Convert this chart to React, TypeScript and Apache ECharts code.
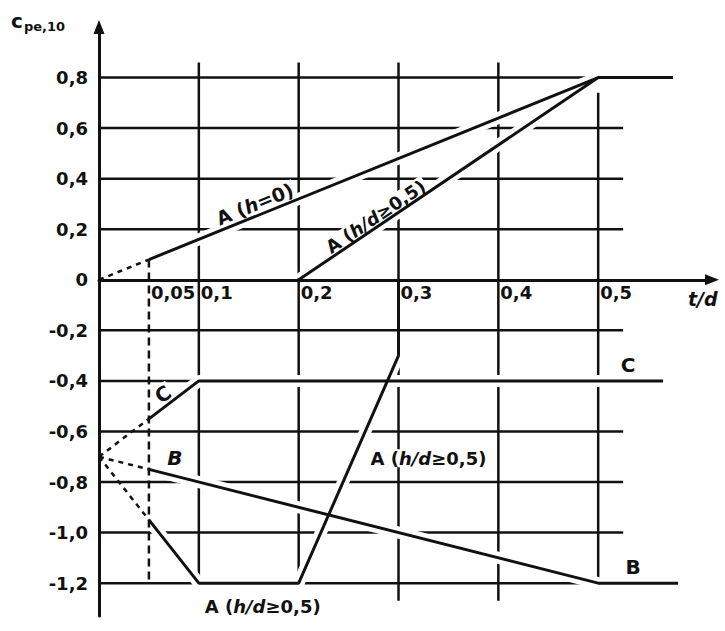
import React, { useEffect, useRef } from "react";
import * as echarts from "echarts";

// ---- axis tick labels ----
const xTickValues = [0.05, 0.1, 0.2, 0.3, 0.4, 0.5];
const xTickLabels = ["0,05", "0,1", "0,2", "0,3", "0,4", "0,5"];
const yTickValues = [-1.2, -1.0, -0.8, -0.6, -0.4, -0.2, 0, 0.2, 0.4, 0.6, 0.8];

// ---- grid lines (drawn as data lines) ----
const gridYValues = [0.8, 0.6, 0.4, 0.2, -0.2, -0.4, -0.6, -0.8, -1.0, -1.2];
const gridYEnd = 0.525;
const gridXValues = [0.1, 0.2, 0.3, 0.4, 0.5];
const gridXTop = [0.86, 0.86, 0.86, 0.86, 0.74];
const gridXBottom = [-1.2, -1.2, -1.27, -1.27, -1.18];

// ---- curves (t/d, cpe,10) ----
const aH0Solid = [[0.05, 0.08], [0.5, 0.8], [0.575, 0.8]];
const aH0Dashed = [[0, 0], [0.05, 0.08]];
const aUpperSolid = [[0.2, 0], [0.5, 0.8]];
const aLowerSolid = [[0.05, -0.95], [0.1, -1.2], [0.2, -1.2], [0.3, -0.3]];
const aLowerJump = [[0.3, -0.3], [0.3, 0]];
const aLowerDashed = [[0, -0.7], [0.05, -0.95]];
const cSolid = [[0.05, -0.55], [0.1, -0.4], [0.565, -0.4]];
const cDashed = [[0, -0.7], [0.05, -0.55]];
const bSolid = [[0.05, -0.75], [0.5, -1.2], [0.58, -1.2]];
const bDashed = [[0, -0.7], [0.05, -0.75]];
const refDashed = [[0.05, 0.08], [0.05, -1.2]];

// ---- curve annotations ----
const annoText = [
  "{m|A (}{mi|h}{m|=0)}",
  "{n|A (}{i|h/d}{n|≥0,5)}",
  "{n|A (}{i|h/d}{n|≥0,5)}",
  "{n|A (}{i|h/d}{n|≥0,5)}",
  "{c|C}",
  "{c|C}",
  "{ci|B}",
  "{c|B}",
];
const annoX = [0.156, 0.277, 0.33, 0.164, 0.064, 0.53, 0.076, 0.535];
const annoY = [0.3, 0.25, -0.706, -1.291, -0.453, -0.338, -0.706, -1.136];
const annoRotate = [22, 34, 0, 0, 35, 0, 0, 0];

const INK = "#111111";
const FONT = "DejaVu Sans";

export default function App() {
  const ref = useRef<HTMLDivElement>(null);

  useEffect(() => {
    document.body.style.margin = "0";
    if (!ref.current) return;
    const chart = echarts.init(ref.current, undefined, { renderer: "svg" });

    const plainLine = (data: number[][], z: number, color: string, width: number, dash?: number[]) => ({
      type: "line",
      data,
      z,
      silent: true,
      symbol: "none",
      showSymbol: false,
      animation: false,
      lineStyle: { color, width, type: dash ? dash : "solid", cap: "butt" },
    });

    const gridSeries = [
      ...gridYValues.map((v) => plainLine([[0, v], [gridYEnd, v]], 1, INK, 2.5)),
      ...gridXValues.map((v, i) => plainLine([[v, gridXBottom[i]], [v, gridXTop[i]]], 1, INK, 2.5)),
    ];
    const solids = [aH0Solid, aUpperSolid, aLowerSolid, cSolid, bSolid];
    const casings = solids.map((d) => plainLine(d, 2, "#ffffff", 12));
    const curves = [...solids, aLowerJump].map((d) => plainLine(d, 4, INK, 3));
    const dashed = [
      plainLine(aH0Dashed, 4, INK, 2.5, [5, 5]),
      plainLine(aLowerDashed, 4, INK, 2.5, [5, 5]),
      plainLine(cDashed, 4, INK, 2.5, [5, 5]),
      plainLine(bDashed, 4, INK, 2.5, [5, 5]),
      plainLine(refDashed, 4, INK, 2.5, [8, 5]),
    ];

    const richBase = { color: INK, textBorderWidth: 0, opacity: 1 };
    const labelSeries = {
      type: "scatter",
      z: 3,
      silent: true,
      symbolSize: 1,
      itemStyle: { color: "#ffffff", opacity: 1 },
      data: annoText.map((t, i) => ({
        value: [annoX[i], annoY[i]],
        label: {
          show: true,
          position: "inside",
          align: "center",
          verticalAlign: "middle",
          rotate: annoRotate[i],
          formatter: t,
          color: INK,
          opacity: 1,
          textBorderWidth: 0,
          backgroundColor: "#ffffff",
          padding: [0, 2],
          rich: {
            m: { ...richBase, fontFamily: FONT, fontWeight: "bold", fontSize: 19 },
            mi: { ...richBase, fontFamily: FONT, fontWeight: "bold", fontStyle: "italic", fontSize: 19 },
            n: { ...richBase, fontFamily: FONT, fontWeight: "bold", fontSize: 18 },
            i: { ...richBase, fontFamily: FONT, fontWeight: "bold", fontStyle: "italic", fontSize: 18 },
            c: { ...richBase, fontFamily: FONT, fontWeight: "bold", fontSize: 20 },
            ci: { ...richBase, fontFamily: FONT, fontWeight: "bold", fontStyle: "italic", fontSize: 20 },
          },
        },
      })),
    };

    const xTickSeries = {
      type: "scatter",
      z: 6,
      silent: true,
      symbolSize: 1,
      itemStyle: { color: INK, opacity: 1 },
      data: xTickValues.map((v, i) => ({
        value: [v, 0],
        label: {
          show: true,
          position: "inside",
          align: "left",
          verticalAlign: "top",
          offset: [2, 4],
          formatter: xTickLabels[i],
          color: INK,
          opacity: 1,
          textBorderWidth: 0,
          fontFamily: FONT,
          fontWeight: "bold",
          fontSize: 18,
        },
      })),
    };

    chart.setOption({
      animation: false,
      backgroundColor: "#ffffff",
      grid: { left: 99, right: 13, top: 27, bottom: 15, containLabel: false },
      xAxis: {
        type: "value",
        min: 0,
        max: 0.614,
        z: 5,
        splitLine: { show: false },
        axisTick: { show: false },
        axisLabel: { show: false },
        axisLine: {
          show: true,
          onZero: true,
          symbol: ["none", "triangle"],
          symbolSize: [11, 14],
          lineStyle: { color: INK, width: 3 },
        },
      },
      yAxis: {
        type: "value",
        min: -1.33,
        max: 1.0,
        z: 5,
        splitLine: { show: false },
        axisTick: { show: false },
        axisLine: {
          show: true,
          onZero: false,
          symbol: ["none", "triangle"],
          symbolSize: [11, 14],
          lineStyle: { color: INK, width: 3 },
        },
        axisLabel: {
          customValues: yTickValues,
          formatter: (v: number) => (v === 0 ? "0" : v.toFixed(1).replace(".", ",")),
          margin: 11,
          fontFamily: FONT,
          fontWeight: "bold",
          fontSize: 18,
          color: INK,
        },
      },
      graphic: [
        {
          type: "text",
          left: 11,
          top: 11,
          style: { text: "c", fontFamily: FONT, fontWeight: "bold", fontSize: 20, fill: INK },
        },
        {
          type: "text",
          left: 24,
          top: 20,
          style: { text: "pe,10", fontFamily: FONT, fontWeight: "bold", fontSize: 13, fill: INK },
        },
        {
          type: "text",
          left: 688,
          top: 289,
          style: { text: "t/d", fontFamily: FONT, fontWeight: "bold", fontStyle: "italic", fontSize: 19, fill: INK },
        },
      ],
      series: [...gridSeries, ...casings, labelSeries, ...curves, ...dashed, xTickSeries],
    });

    return () => chart.dispose();
  }, []);

  return <div ref={ref} style={{ width: 725, height: 631 }} />;
}
